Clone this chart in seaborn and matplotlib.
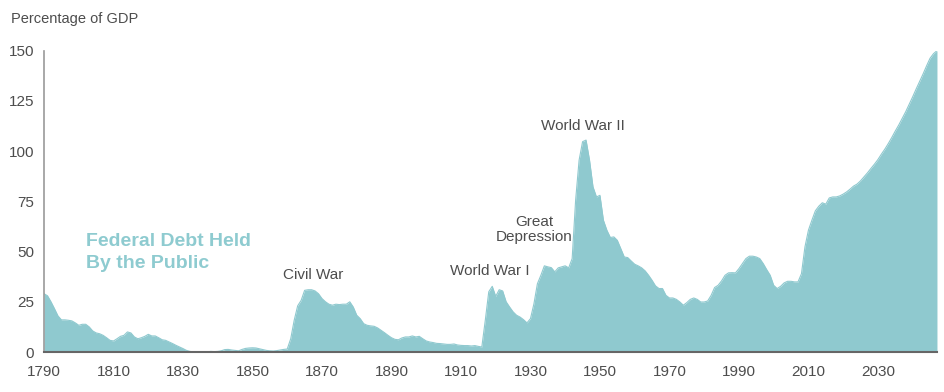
import numpy as np
import pandas as pd
import seaborn as sns
import matplotlib.pyplot as plt

# debt held by the public, percent of GDP, 1790-2047
years = list(range(1790, 2048))
debt_1790s = [29, 28, 25, 21.6, 18, 16, 16, 15.8, 15.5, 14.5]
debt_1800s = [13.3, 13.8, 13.8, 12.5, 10.5, 9.5, 9.1, 8.3, 7.1, 5.8]
debt_1810s = [5.5, 6.6, 7.8, 8.3, 10, 9.5, 7.5, 6.6, 7.1, 7.8]
debt_1820s = [8.8, 8, 8, 7.1, 6.1, 5.8, 5, 4.2, 3.3, 2.5]
debt_1830s = [1.7, 0.8, 0.3, 0, 0, 0, 0, 0.1, 0.3, 0.2]
debt_1840s = [0.3, 0.6, 1.2, 1.3, 1.0, 0.8, 0.6, 1.3, 1.8, 2.0]
debt_1850s = [2.1, 2.0, 1.6, 1.2, 0.8, 0.6, 0.5, 0.7, 1.0, 1.3]
debt_1860s = [1.5, 6.6, 15.8, 23, 25.7, 30.7, 31, 31, 30.4, 29]
debt_1870s = [26.6, 25, 23.8, 23.3, 23.8, 23.6, 23.8, 23.8, 25, 22.4]
debt_1880s = [18.3, 16.6, 14.1, 13.3, 13, 12.8, 12, 10.8, 9.6, 8.3]
debt_1890s = [7.1, 6.3, 6.1, 7, 7.5, 7.5, 8, 7.5, 7.8, 6.6]
debt_1900s = [5.5, 5, 4.7, 4.3, 4.2, 4.0, 3.8, 3.8, 4.0, 3.5]
debt_1910s = [3.3, 3.2, 3.2, 3.0, 3.2, 2.8, 2.5, 15.8, 30, 32.7]
debt_1920s = [27.7, 31, 30.4, 25, 22.4, 20, 18.3, 17.4, 16.1, 14.5]
debt_1930s = [16.6, 24, 34, 38.2, 42.9, 42.4, 42, 39.9, 41.9, 42.4]
debt_1940s = [42.9, 41.9, 46.5, 75.6, 95.5, 104.7, 105.5, 95.5, 82.2, 77.2]
debt_1950s = [78, 65.6, 60.6, 57, 57.3, 55.6, 51.5, 47.3, 47, 45.3]
debt_1960s = [43.7, 42.9, 41.9, 40.4, 38.2, 35.7, 32.9, 31.6, 31.6, 28.2]
debt_1970s = [26.9, 26.9, 26.2, 24.9, 23.3, 24.6, 26.2, 26.9, 26.2, 24.9]
debt_1980s = [24.9, 25.4, 28.2, 32.1, 33.2, 35.4, 38.2, 39.4, 39.5, 39.4]
debt_1990s = [41.5, 44, 46.5, 47.7, 47.7, 47.3, 46.5, 44, 41, 38.2]
debt_2000s = [33.2, 31.6, 32.7, 34.4, 35.2, 35.2, 34.9, 34.9, 39, 52.3]
debt_2010s = [60.6, 65.6, 70.3, 72.6, 74.3, 73.6, 76.7, 77.2, 77.2, 77.7]
debt_2020s = [78.6, 79.7, 81.1, 82.6, 83.6, 85.2, 87.2, 89.2, 91.4, 93.5]
debt_2030s = [95.8, 98.5, 101, 103.8, 106.8, 110, 113, 116.3, 119.6, 123.3]
debt_2040s = [127, 130.9, 134.6, 138.4, 142.4, 146.2, 148.5, 150]

debt = (debt_1790s + debt_1800s + debt_1810s + debt_1820s + debt_1830s
        + debt_1840s + debt_1850s + debt_1860s + debt_1870s + debt_1880s
        + debt_1890s + debt_1900s + debt_1910s + debt_1920s + debt_1930s
        + debt_1940s + debt_1950s + debt_1960s + debt_1970s + debt_1980s
        + debt_1990s + debt_2000s + debt_2010s + debt_2020s + debt_2030s
        + debt_2040s)

xticks = list(range(1790, 2031, 20))
yticks = [0, 25, 50, 75, 100, 125, 150]

events = ["Civil War", "World War I", "Great\nDepression", "World War II"]
event_x = [1867.5, 1918.2, 1931.0, 1945.2]
event_y = [38.2, 40.4, 60.8, 112.6]

df = pd.DataFrame({"year": years, "debt": debt})

fill = "#8fc9cf"
text_col = "#4d4d4d"

sns.set_theme(style="white")
plt.rcParams["font.family"] = ["Liberation Sans", "DejaVu Sans"]

fig, ax = plt.subplots(figsize=(9.45, 3.92), dpi=100)
fig.subplots_adjust(left=0.0466, right=0.9915, bottom=0.102, top=0.8707)

ax.fill_between(df["year"], 0, df["debt"], color=fill, linewidth=0)
sns.lineplot(data=df, x="year", y="debt", ax=ax, color=fill, linewidth=0.8)

ax.set_xlim(1790, 2047)
ax.set_ylim(0, 150)
ax.set_xticks(xticks)
ax.set_yticks(yticks)
ax.set_xlabel("")
ax.set_ylabel("")
ax.tick_params(axis="both", direction="in", length=4, width=1.2,
               labelsize=11, labelcolor=text_col)
ax.tick_params(axis="x", colors="#666666", labelcolor=text_col, pad=9)
ax.tick_params(axis="y", colors="#999999", labelcolor=text_col, pad=7)

sns.despine(ax=ax)
ax.spines["left"].set_color("#999999")
ax.spines["left"].set_linewidth(1.2)
ax.spines["bottom"].set_color("#666666")
ax.spines["bottom"].set_linewidth(1.5)

for label, x, y in zip(events, event_x, event_y):
    ax.text(x, y, label, ha="center", va="center", fontsize=11,
            color=text_col, linespacing=1.1)

ax.text(0.047, 0.395, "Federal Debt Held\nBy the Public", transform=ax.transAxes,
        fontsize=14, fontweight="bold", color="#8ecbd0", ha="left", va="top",
        linespacing=1.35)

fig.text(0.012, 0.952, "Percentage of GDP", fontsize=10.5, color=text_col,
         ha="left", va="center")

fig.savefig("out.png", dpi=100)
